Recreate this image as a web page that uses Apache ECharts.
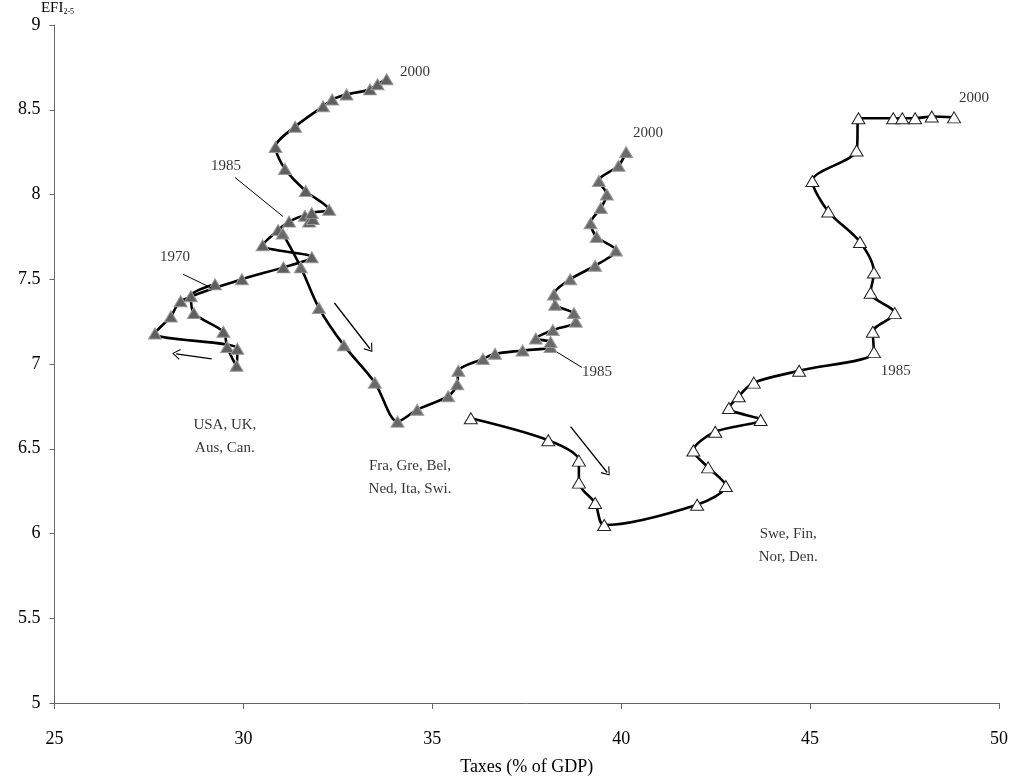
<!DOCTYPE html>
<html>
<head>
<meta charset="utf-8">
<title>EFI vs Taxes</title>
<script src="https://cdn.jsdelivr.net/npm/echarts@6/dist/echarts.min.js"></script>
<style>
  html, body { margin: 0; padding: 0; background: #fff; }
  #chart { width: 1014px; height: 782px; }
</style>
</head>
<body>
<div id="chart"></div>
<script>
// 数据 (taxes % of GDP, EFI 2-5), 1970 -> 2000
const angloTax = [29.25, 28.61, 28.69, 29.47, 29.57, 29.82, 29.84, 27.66, 28.08, 28.34, 29.96, 31.06, 31.81, 30.51, 30.92, 31.21,
  31.63, 31.74, 31.84, 31.81, 32.27, 31.65, 31.10, 30.85, 31.37, 32.11, 32.35, 32.73, 33.35, 33.55, 33.79];
const angloEfi = [7.47, 7.40, 7.30, 7.19, 7.10, 6.99, 7.09, 7.18, 7.28, 7.37, 7.50, 7.57, 7.63, 7.70, 7.79, 7.84,
  7.875, 7.84, 7.855, 7.89, 7.91, 8.02, 8.15, 8.28, 8.40, 8.52, 8.56, 8.59, 8.62, 8.65, 8.68];

const contTax = [31.04, 31.52, 32.00, 32.66, 33.48, 34.08, 34.60, 35.42, 35.66, 35.69, 36.34, 36.66, 37.39, 38.13, 38.13, 37.74,
  38.19, 38.80, 38.75, 38.25, 38.22, 38.65, 39.31, 39.86, 39.35, 39.19, 39.46, 39.62, 39.41, 39.93, 40.13];
const contEfi = [7.77, 7.57, 7.33, 7.11, 6.89, 6.66, 6.73, 6.81, 6.88, 6.96, 7.03, 7.06, 7.08, 7.10, 7.13, 7.15,
  7.20, 7.25, 7.30, 7.35, 7.41, 7.50, 7.58, 7.67, 7.75, 7.83, 7.92, 8.00, 8.08, 8.17, 8.25];

const nordTax = [36.02, 38.07, 38.88, 38.88, 39.31, 39.55, 42.01, 42.77, 42.30, 41.91, 42.49, 43.69, 42.85, 43.11, 43.51, 44.71,
  46.69, 46.66, 47.24, 46.60, 46.69, 46.32, 45.48, 45.06, 46.23, 46.28, 47.20, 47.44, 47.78, 48.22, 48.81];
const nordEfi = [6.68, 6.55, 6.43, 6.30, 6.18, 6.05, 6.17, 6.28, 6.39, 6.49, 6.60, 6.67, 6.74, 6.81, 6.89, 6.96,
  7.07, 7.19, 7.30, 7.42, 7.54, 7.72, 7.90, 8.08, 8.26, 8.45, 8.45, 8.45, 8.45, 8.46, 8.455];

// 文字标注
const noteText = ['2000', '2000', '2000', '1985', '1970', '1985', '1985', 'USA, UK,\nAus, Can.', 'Fra, Gre, Bel,\nNed, Ita, Swi.', 'Swe, Fin,\nNor, Den.'];
const noteTax = [34.54, 40.71, 49.34, 29.54, 28.19, 39.36, 47.27, 29.51, 34.41, 44.42];
const noteEfi = [8.72, 8.36, 8.57, 8.17, 7.63, 6.95, 6.96, 6.57, 6.33, 5.93];

// 指示线和箭头 [x1, y1, x2, y2]
const pointers = [
  [28.40, 7.53, 29.14, 7.45],
  [29.78, 8.10, 31.05, 7.87],
  [38.30, 7.07, 38.96, 6.98]
];
const arrows = [
  [29.16, 7.03, 28.22, 7.06],
  [32.41, 7.36, 33.35, 7.09],
  [38.66, 6.63, 39.63, 6.36]
];

const serif = 'Liberation Serif, Times New Roman, serif';
const pair = (xs, ys) => xs.map((x, i) => [x, ys[i]]);

const chart = echarts.init(document.getElementById('chart'));

const pathSeries = (name, xs, ys, fill, border) => ({
  name: name,
  type: 'line',
  data: pair(xs, ys),
  smooth: 0.3,
  symbol: 'triangle',
  symbolSize: [13, 11],
  showSymbol: true,
  lineStyle: { color: '#000', width: 2.6 },
  itemStyle: { color: fill, borderColor: border, borderWidth: 1 },
  z: 3
});

const chevron = 'path://M0,10 L5,0 L10,10 L9,10.6 L5,2.2 L1,10.6 Z';

chart.setOption({
  animation: false,
  backgroundColor: '#fff',
  grid: { left: 54.5, right: 15, top: 25, bottom: 79 },
  xAxis: {
    type: 'value',
    min: 25, max: 50, interval: 5,
    name: 'Taxes (% of GDP)',
    nameLocation: 'middle',
    nameGap: 55,
    nameTextStyle: { fontFamily: serif, fontSize: 18, color: '#000' },
    axisLine: { lineStyle: { color: '#666', width: 1 } },
    axisTick: { show: true, length: 6, lineStyle: { color: '#666' } },
    axisLabel: { fontFamily: serif, fontSize: 18, color: '#000', margin: 27 },
    splitLine: { show: false }
  },
  yAxis: {
    type: 'value',
    min: 5, max: 9, interval: 0.5,
    name: '{a|EFI}{b|2-5}',
    nameLocation: 'end',
    nameGap: -2,
    nameTextStyle: {
      padding: [0, 0, 0, 6],
      rich: {
        a: { fontFamily: serif, fontSize: 15, color: '#000' },
        b: { fontFamily: serif, fontSize: 8, color: '#000', padding: [9, 0, 0, 0] }
      }
    },
    axisLine: { show: true, lineStyle: { color: '#666', width: 1 } },
    axisTick: { show: true, length: 5, lineStyle: { color: '#666' } },
    axisLabel: { fontFamily: serif, fontSize: 18, color: '#000', margin: 14 },
    splitLine: { show: false }
  },
  series: [
    pathSeries('Anglo', angloTax, angloEfi, '#5f5f5f', '#9a9a9a'),
    pathSeries('Continental', contTax, contEfi, '#6a6a6a', '#9a9a9a'),
    pathSeries('Nordic', nordTax, nordEfi, '#fff', '#222'),
    {
      name: 'notes',
      type: 'scatter',
      data: noteTax.map((x, i) => ({ value: [x, noteEfi[i]], label: { formatter: noteText[i] } })),
      symbolSize: 1,
      itemStyle: { color: 'rgba(0,0,0,0)' },
      label: {
        show: true,
        position: 'inside',
        fontFamily: serif,
        fontSize: 15,
        lineHeight: 23,
        color: '#000'
      },
      silent: true,
      z: 5,
      markLine: {
        silent: true,
        animation: false,
        label: { show: false },
        lineStyle: { color: '#000', type: 'solid', width: 1 },
        data: pointers.map(p => [
          { coord: [p[0], p[1]], symbol: 'none' },
          { coord: [p[2], p[3]], symbol: 'none' }
        ]).concat(arrows.map(p => [
          { coord: [p[0], p[1]], symbol: 'none', lineStyle: { width: 1.3 } },
          { coord: [p[2], p[3]], symbol: chevron, symbolSize: [11, 8], lineStyle: { width: 1.3 } }
        ]))
      }
    }
  ]
});
</script>
</body>
</html>
